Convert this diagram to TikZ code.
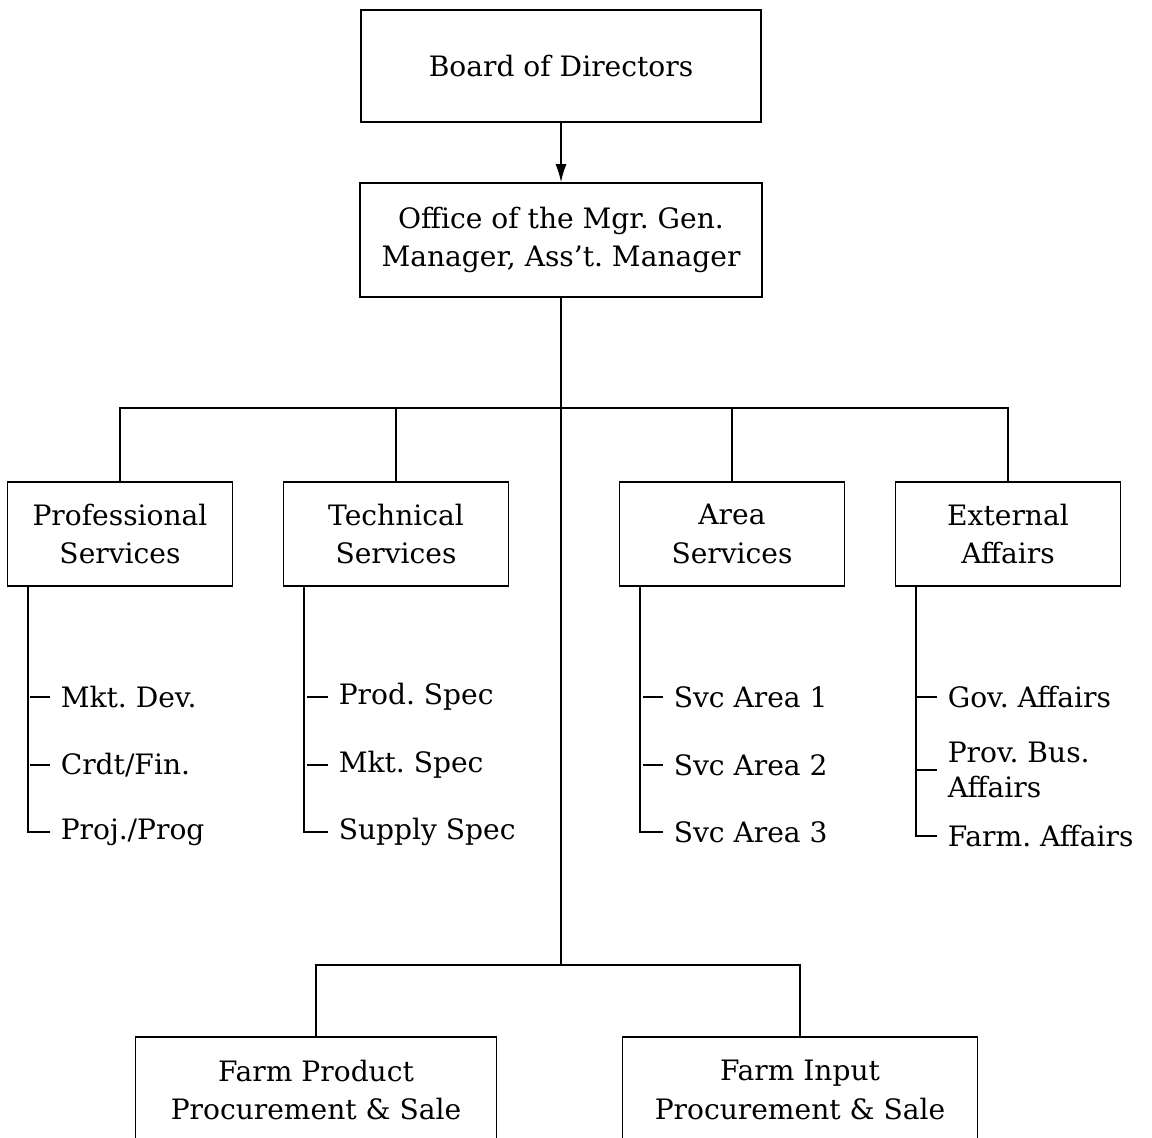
\documentclass[tikz,border=0pt]{standalone}
\usepackage{fontspec}
\setmainfont{DejaVu Serif}
\usetikzlibrary{arrows.meta}
\frenchspacing
\begin{document}
\begin{tikzpicture}[x=0.02cm,y=-0.02cm,line width=0.9pt,
        box/.style={draw,align=center,font=\fontsize{16}{22}\selectfont},
        dept/.style={box,minimum width=4.5cm,minimum height=2.08cm},
        item/.style={anchor=west,inner xsep=0.2cm,align=left,font=\fontsize{16}{20}\selectfont}]
            \useasboundingbox (0,0) rectangle (1152,1138);

            % top of the chart
            \node[box,minimum width=8cm,minimum height=2.24cm] (board) at (561,66) {Board of Directors};
            \node[box,minimum width=8.04cm,minimum height=2.28cm] (office) at (561,240)
                {Office of the Mgr. Gen.\\Manager, Ass't. Manager};
            \draw[-{Latex[length=3.6mm,width=2.2mm]}] (board) -- (office);

            % departments
            \node[dept] (prof) at (120,534) {Professional\\Services};
            \node[dept] (tech) at (396,534) {Technical\\Services};
            \node[dept] (area) at (732,534) {Area\\Services};
            \node[dept] (ext) at (1008,534) {External\\Affairs};
            \coordinate (bus) at (561,408);
            \draw (prof.north) |- (bus) -| (ext.north);
            \draw (tech.north) -- (tech.north |- bus);
            \draw (area.north) -- (area.north |- bus);

            % sections under each department
            \node[item] (mktdev) at (50,697) {Mkt. Dev.};
            \node[item] (crdt) at (50,765) {Crdt/Fin.};
            \node[item] (proj) at (50,832) {Proj./Prog};
            \draw ([xshift=0.42cm]prof.south west) |- (proj.west);
            \draw (mktdev.west) -- ++(-20,0);
            \draw (crdt.west) -- ++(-20,0);

            \node[item] (prodspec) at (328,697) {Prod. Spec};
            \node[item] (mktspec) at (328,765) {Mkt. Spec};
            \node[item] (supply) at (328,832) {Supply Spec};
            \draw ([xshift=0.42cm]tech.south west) |- (supply.west);
            \draw (prodspec.west) -- ++(-21,0);
            \draw (mktspec.west) -- ++(-21,0);

            \node[item] (svca) at (663,697) {Svc Area 1};
            \node[item] (svcb) at (663,765) {Svc Area 2};
            \node[item] (svcc) at (663,832) {Svc Area 3};
            \draw ([xshift=0.42cm]area.south west) |- (svcc.west);
            \draw (svca.west) -- ++(-20,0);
            \draw (svcb.west) -- ++(-20,0);

            \node[item] (gov) at (937,697) {Gov. Affairs};
            \node[item] (prov) at (937,770) {Prov. Bus.\\Affairs};
            \node[item] (farmaff) at (937,836) {Farm. Affairs};
            \draw ([xshift=0.42cm]ext.south west) |- (farmaff.west);
            \draw (gov.west) -- ++(-22,0);
            \draw (prov.west) -- ++(-22,0);

            % farm operations at the bottom
            \node[box,minimum width=7.22cm,minimum height=2.12cm] (product) at (316,1090)
                {Farm Product\\Procurement \& Sale};
            \node[box,minimum width=7.1cm,minimum height=2.12cm] (input) at (800,1090)
                {Farm Input\\Procurement \& Sale};
            \coordinate (low) at (561,965);
            \draw (office.south) -- (low);
            \draw (product.north) |- (low) -| (input.north);
        \end{tikzpicture}
\end{document}
